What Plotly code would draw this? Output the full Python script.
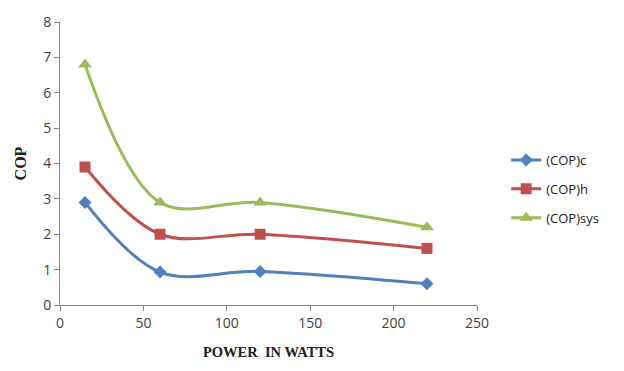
import plotly.graph_objects as go

power = [15, 60, 120, 220]
cop_c = [2.9, 0.93, 0.95, 0.6]
cop_h = [3.9, 2.0, 2.0, 1.6]
cop_sys = [6.8, 2.9, 2.9, 2.2]

series = [
    ("(COP)c", cop_c, "#4F81BD", "diamond", 10),
    ("(COP)h", cop_h, "#C0504D", "square", 11),
    ("(COP)sys", cop_sys, "#9BBB59", "triangle-up", 12),
]

fig = go.Figure()
for name, vals, col, sym, sz in series:
    fig.add_trace(go.Scatter(
        x=power, y=vals, name=name, mode="lines+markers", legendgroup=name,
        line=dict(color=col, width=3, shape="spline", smoothing=1.0),
        marker=dict(symbol=sym, size=sz, color=col),
    ))

fig.update_layout(
    width=624, height=371,
    margin=dict(l=60, r=147, t=16, b=66),
    paper_bgcolor="white", plot_bgcolor="white",
    font=dict(family="Open Sans", size=14, color="#404040"),
    legend=dict(x=1.07, y=0.41, xanchor="left", yanchor="middle",
                font=dict(family="Open Sans", size=13, color="#202020"),
                itemwidth=30, tracegroupgap=9),
    xaxis=dict(range=[0, 250], dtick=50, showgrid=False, zeroline=False,
               showline=True, linecolor="#868686", linewidth=1,
               ticks="outside", ticklen=5, tickcolor="#868686",
               tickfont=dict(size=14),
               title=dict(text="<b>POWER  IN WATTS</b>",
                          font=dict(family="Liberation Serif", size=14.5, color="#202020"),
                          standoff=16)),
    yaxis=dict(range=[0, 8], dtick=1, showgrid=False, zeroline=False,
               showline=True, linecolor="#868686", linewidth=1,
               ticks="outside", ticklen=5, tickcolor="#868686",
               tickfont=dict(size=14),
               title=dict(text="<b>COP</b>",
                          font=dict(family="Liberation Serif", size=16, color="#202020"),
                          standoff=12)),
)

fig.write_html("out.html")
